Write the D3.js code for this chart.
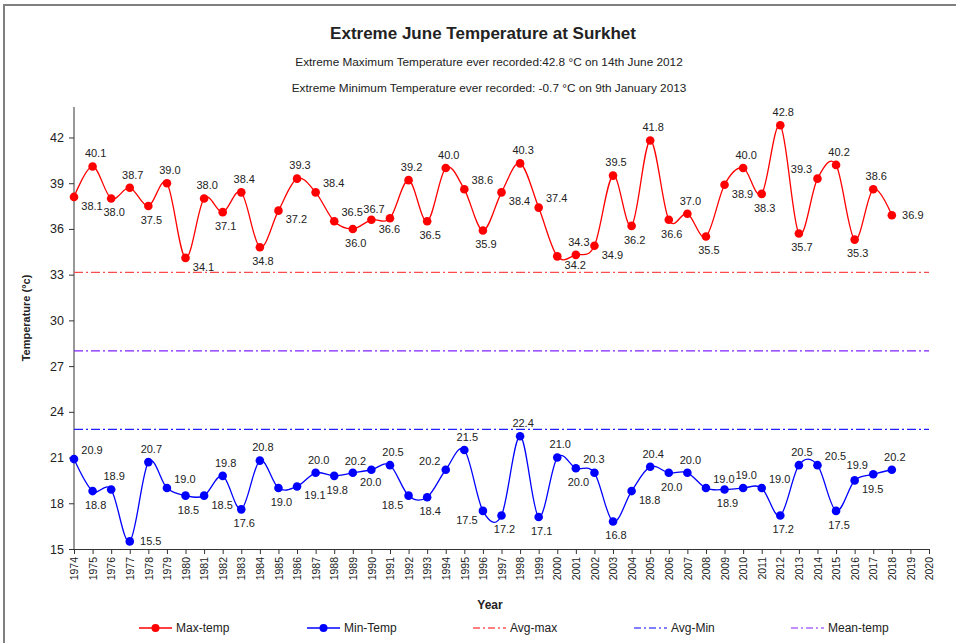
<!DOCTYPE html>
<html>
<head>
<meta charset="utf-8">
<script src="https://cdn.jsdelivr.net/npm/d3@7"></script>
<style>
  body { margin: 0; background: #fff; }
  svg text { font-family: "Liberation Sans", Arial, sans-serif; fill: #222; }
</style>
</head>
<body>
<div id="chart"></div>
<script>
let years = d3.range(1974, 2021).map(String);
let dataYears = d3.range(1974, 2019).map(String);

let maxTemp = [38.1, 40.1, 38.0, 38.7, 37.5, 39.0, 34.1, 38.0, 37.1, 38.4,
    34.8, 37.2, 39.3, 38.4, 36.5, 36.0, 36.6, 36.7, 39.2, 36.5,
    40.0, 38.6, 35.9, 38.4, 40.3, 37.4, 34.2, 34.3, 34.9, 39.5,
    36.2, 41.8, 36.6, 37.0, 35.5, 38.9, 40.0, 38.3, 42.8, 35.7,
    39.3, 40.2, 35.3, 38.6, 36.9];
let minTemp = [20.9, 18.8, 18.9, 15.5, 20.7, 19.0, 18.5, 18.5, 19.8, 17.6,
    20.8, 19.0, 19.1, 20.0, 19.8, 20.0, 20.2, 20.5, 18.5, 18.4,
    20.2, 21.5, 17.5, 17.2, 22.4, 17.1, 21.0, 20.3, 20.0, 16.8,
    18.8, 20.4, 20.0, 20.0, 19.0, 18.9, 19.0, 19.0, 17.2, 20.5,
    20.5, 17.5, 19.5, 19.9, 20.2];
let avgMax = 33.15;
let avgMin = 22.85;
let meanTemp = 28.0;
let yTicks = [15, 18, 21, 24, 27, 30, 33, 36, 39, 42];
let subtitles = [
    "Extreme Maximum Temperature ever recorded:42.8 °C on 14th June 2012",
    "Extreme Minimum Temperature ever recorded: -0.7 °C on 9th January 2013"
];

let width = 956, height = 643;
let margin = {top: 107, bottom: 94, left: 74, right: 27};

let svg = d3.select("#chart").append("svg")
    .attr("width", width)
    .attr("height", height);

// frame (only top and left edges show in the picture)
svg.append("path")
    .attr("d", `M4,${height} V5 H${width}`)
    .attr("fill", "none")
    .attr("stroke", "#808080")
    .attr("stroke-width", 2);

let xScale = d3.scalePoint().domain(years).range([margin.left, width - margin.right]);
let yScale = d3.scaleLinear().domain([15, 44]).range([height - margin.bottom, margin.top]);

// titles
svg.append("text")
    .attr("x", 483).attr("y", 39)
    .attr("text-anchor", "middle")
    .style("font-size", "17px").style("font-weight", "bold")
    .text("Extreme June Temperature at Surkhet");
svg.selectAll("text.sub")
    .data(subtitles)
    .enter().append("text")
    .attr("class", "sub")
    .attr("x", 489)
    .attr("y", (d, i) => 66 + i * 26)
    .attr("text-anchor", "middle")
    .style("font-size", "11.8px")
    .text(d => d);

// axes
let yAxis = d3.axisLeft(yScale).tickValues(yTicks).tickSize(5).tickPadding(5);
let gy = svg.append("g")
    .attr("transform", `translate(${margin.left},0)`)
    .call(yAxis);
gy.select(".domain").attr("d", `M-0,${yScale(44)}V${yScale(15)}`);
gy.selectAll("text").style("font-size", "12.5px").attr("fill", "#222");

let xAxis = d3.axisBottom(xScale).tickSize(5);
let gx = svg.append("g")
    .attr("transform", `translate(0,${yScale(15)})`)
    .call(xAxis);
gx.selectAll("text")
    .style("font-size", "10.5px")
    .attr("fill", "#222")
    .attr("transform", "rotate(-90)")
    .attr("text-anchor", "end")
    .attr("x", -8).attr("y", 0).attr("dy", "0.35em");
svg.selectAll(".domain, .tick line").attr("stroke", "#333");

svg.append("text")
    .attr("x", 490).attr("y", 609)
    .attr("text-anchor", "middle")
    .style("font-size", "12px").style("font-weight", "bold")
    .text("Year");
svg.append("text")
    .attr("transform", `translate(30,318) rotate(-90)`)
    .attr("text-anchor", "middle")
    .style("font-size", "11px").style("font-weight", "bold")
    .text("Temperature (°c)");

// reference lines
let refLines = [
    {value: avgMax, color: "#ff4b4b"},
    {value: meanTemp, color: "#8020ff"},
    {value: avgMin, color: "#2020ff"}
];
svg.selectAll("line.ref")
    .data(refLines)
    .enter().append("line")
    .attr("class", "ref")
    .attr("x1", margin.left).attr("x2", width - margin.right)
    .attr("y1", d => yScale(d.value)).attr("y2", d => yScale(d.value))
    .attr("stroke", d => d.color)
    .attr("stroke-width", 1.2)
    .attr("stroke-dasharray", "9,3,2,3");

let line = d3.line()
    .x((d, i) => xScale(dataYears[i]))
    .y(d => yScale(d))
    .curve(d3.curveCardinal.tension(0));

// lines and markers first, labels afterwards so they can dodge them
let series = [{vals: maxTemp, color: "#ff0000"}, {vals: minTemp, color: "#0000ff"}];
let obstacles = [];
series.forEach(s => {
    s.g = svg.append("g");
    let path = s.g.append("path")
        .datum(s.vals)
        .attr("d", line)
        .attr("fill", "none")
        .attr("stroke", s.color)
        .attr("stroke-width", 1.3);
    s.g.selectAll("circle")
        .data(s.vals)
        .enter().append("circle")
        .attr("cx", (d, i) => xScale(dataYears[i]))
        .attr("cy", d => yScale(d))
        .attr("r", 4.3)
        .attr("fill", s.color);
    let node = path.node(), len = node.getTotalLength();
    for (let l = 0; l <= len; l += 2) {
        let pt = node.getPointAtLength(l);
        obstacles.push({x0: pt.x - 0.8, x1: pt.x + 0.8, y0: pt.y - 0.8, y1: pt.y + 0.8});
    }
    s.vals.forEach((v, i) => {
        let x = xScale(dataYears[i]), y = yScale(v);
        obstacles.push({x0: x - 4, x1: x + 4, y0: y - 4, y1: y + 4});
    });
});
refLines.forEach(r => {
    let y = yScale(r.value);
    obstacles.push({x0: margin.left, x1: width - margin.right, y0: y - 0.6, y1: y + 0.6});
});

let placed = [];
let hit = (a, b) => a.x0 < b.x1 && b.x0 < a.x1 && a.y0 < b.y1 && b.y0 < a.y1;

const A = [3, -13], B = [3, 14], RA = [18, -9], RB = [18, 9], LA = [-16, -9], LB = [-16, 9], R = [21, 0];

function candidates(vals, i) {
    let v = vals[i];
    let p = i > 0 ? vals[i - 1] : v;
    let n = i < vals.length - 1 ? vals[i + 1] : v;
    let order;
    if (i === 0) order = v >= n ? [RA, A, RB] : [RB, B, RA];
    else if (i === vals.length - 1) order = v >= p ? [A, R, RA] : [R, RB, B];
    else if (v >= p && v >= n) order = [A, RA, LA, R, B];
    else if (v <= p && v <= n) order = [B, RB, LB, R, A];
    else if (n > p) order = [RB, LA, A, B, R];
    else order = [RA, LB, A, B, R];
    return order.concat([A, B, RA, RB, LA, LB, R]);
}

function placeLabel(node, vals, i) {
    let x = xScale(dataYears[i]), y = yScale(vals[i]);
    let sel = d3.select(node);
    let order = candidates(vals, i);
    let boxOf = () => {
        let bb = node.getBBox();
        return {x0: bb.x, x1: bb.x + bb.width, y0: bb.y + 2, y1: bb.y + bb.height - 2};
    };
    for (let c of order) {
        sel.attr("x", x + c[0]).attr("y", y + c[1]);
        let box = boxOf();
        if (box.y1 > yScale(15) - 1 || box.y0 < yScale(44)) continue;
        if (placed.some(b => hit(b, box)) || obstacles.some(b => hit(b, box))) continue;
        placed.push(box);
        return;
    }
    // nothing free: keep the first choice that avoids other labels
    for (let c of order) {
        sel.attr("x", x + c[0]).attr("y", y + c[1]);
        let box = boxOf();
        if (placed.some(b => hit(b, box))) continue;
        placed.push(box);
        return;
    }
}

series.forEach(s => {
    s.g.selectAll("text")
        .data(s.vals)
        .enter().append("text")
        .attr("dy", "0.35em")
        .attr("text-anchor", "middle")
        .style("font-size", "11px")
        .text(d => d.toFixed(1))
        .each(function(d, i) { placeLabel(this, s.vals, i); });
});

// legend
let legendItems = [
    {name: "Max-temp", color: "#ff0000", x: 139, marker: true},
    {name: "Min-Temp", color: "#0000ff", x: 307, marker: true},
    {name: "Avg-max", color: "#ff0000", x: 473, marker: false},
    {name: "Avg-Min", color: "#0000ff", x: 634, marker: false},
    {name: "Mean-temp", color: "#8020ff", x: 791, marker: false}
];
let lg = svg.selectAll("g.legend")
    .data(legendItems)
    .enter().append("g")
    .attr("class", "legend")
    .attr("transform", d => `translate(${d.x},628)`);
lg.append("line")
    .attr("x1", 0).attr("x2", 33)
    .attr("stroke", d => d.color)
    .attr("stroke-width", d => d.marker ? 1.3 : 1.1)
    .attr("stroke-dasharray", d => d.marker ? null : "7,3,2,3");
lg.filter(d => d.marker).append("circle")
    .attr("cx", 16.5).attr("r", 4)
    .attr("fill", d => d.color);
lg.append("text")
    .attr("x", 37).attr("dy", "0.35em")
    .style("font-size", "12px")
    .text(d => d.name);
</script>
</body>
</html>
